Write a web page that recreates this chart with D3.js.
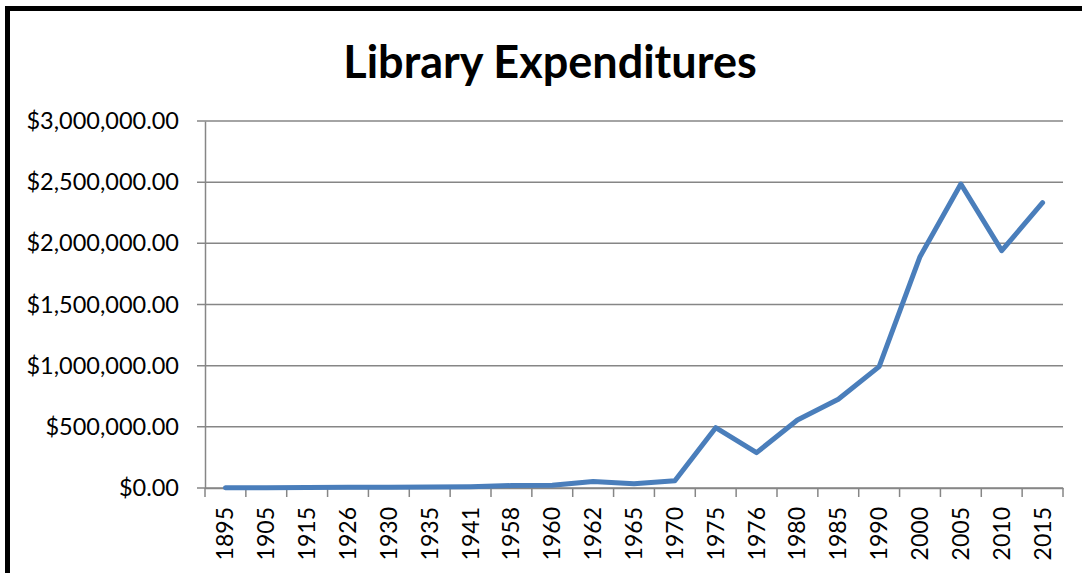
<!DOCTYPE html>
<html>
<head>
<meta charset="utf-8">
<script src="https://cdn.jsdelivr.net/npm/d3@7"></script>
<style>
  html, body { margin: 0; padding: 0; background: #fff; overflow: hidden; }
  svg { display: block; }
</style>
</head>
<body>
<div id="chart"></div>
<script>
// chart data
const years = ["1895", "1905", "1915", "1926", "1930", "1935", "1941", "1958", "1960", "1962",
               "1965", "1970", "1975", "1976", "1980", "1985", "1990", "2000", "2005", "2010", "2015"];
const spending = [2000, 3000, 4000, 6000, 7000, 8000, 11000, 20000, 22000, 54000,
                  35000, 60000, 493000, 289000, 556000, 725000, 992000, 1891000, 2485000, 1940000, 2332000];
const yTicks = [0, 500000, 1000000, 1500000, 2000000, 2500000, 3000000];

const width = 1082, height = 573;
const margin = {top: 121, right: 19, bottom: 85, left: 205};
const font = "Lato, 'Open Sans', sans-serif";

const svg = d3.select("#chart").append("svg")
    .attr("width", width)
    .attr("height", height);

// outer frame (only top and left edges are inside the crop)
svg.append("path")
    .attr("d", "M7.5,573 L7.5,8.5 L1082,8.5")
    .attr("fill", "none")
    .attr("stroke", "#000")
    .attr("stroke-width", 5);

svg.append("text")
    .attr("x", 550)
    .attr("y", 78)
    .attr("text-anchor", "middle")
    .style("font-family", font)
    .style("font-weight", "bold")
    .style("font-size", "45px")
    .text("Library Expenditures");

const x = d3.scaleBand()
    .domain(years)
    .range([margin.left, width - margin.right]);

const y = d3.scaleLinear()
    .domain([0, 3000000])
    .range([height - margin.bottom, margin.top]);

const money = d3.format("$,.2f");
const axisColor = "#868686";

// gridlines
svg.append("g")
    .selectAll("line")
    .data(yTicks)
    .join("line")
    .attr("x1", margin.left - 8)
    .attr("x2", width - margin.right)
    .attr("y1", d => y(d))
    .attr("y2", d => y(d))
    .attr("stroke", axisColor)
    .attr("stroke-width", 1.5);

// y axis
const yAxis = svg.append("g")
    .attr("transform", `translate(${margin.left},0)`)
    .call(d3.axisLeft(y).tickValues(yTicks).tickFormat(money).tickSize(0).tickPadding(26));
yAxis.select(".domain")
    .attr("stroke", axisColor)
    .attr("stroke-width", 1.5);
yAxis.selectAll("text")
    .style("font-family", font)
    .style("font-size", "23.5px")
    .attr("fill", "#000");

// x axis, ticks sit on the category boundaries
const xAxis = svg.append("g")
    .attr("transform", `translate(0,${y(0)})`)
    .call(d3.axisBottom(x).tickSize(0).tickPadding(0));
xAxis.select(".domain")
    .attr("stroke", axisColor)
    .attr("stroke-width", 1.5);
xAxis.selectAll("text")
    .style("font-family", font)
    .style("font-size", "23px")
    .attr("fill", "#000")
    .attr("transform", "rotate(-90)")
    .attr("text-anchor", "end")
    .attr("dy", "0.35em")
    .attr("x", -19)
    .attr("y", 0);

svg.append("g")
    .selectAll("line")
    .data(years.concat([null]))
    .join("line")
    .attr("x1", (d, i) => x.range()[0] + i * x.step())
    .attr("x2", (d, i) => x.range()[0] + i * x.step())
    .attr("y1", y(0))
    .attr("y2", y(0) + 9)
    .attr("stroke", axisColor)
    .attr("stroke-width", 1.5);

// the series
const line = d3.line()
    .x((d, i) => x(years[i]) + x.bandwidth() / 2)
    .y(d => y(d));

svg.append("path")
    .datum(spending)
    .attr("d", line)
    .attr("fill", "none")
    .attr("stroke", "#4a7ebb")
    .attr("stroke-width", 5)
    .attr("stroke-linejoin", "round")
    .attr("stroke-linecap", "round");
</script>
</body>
</html>
